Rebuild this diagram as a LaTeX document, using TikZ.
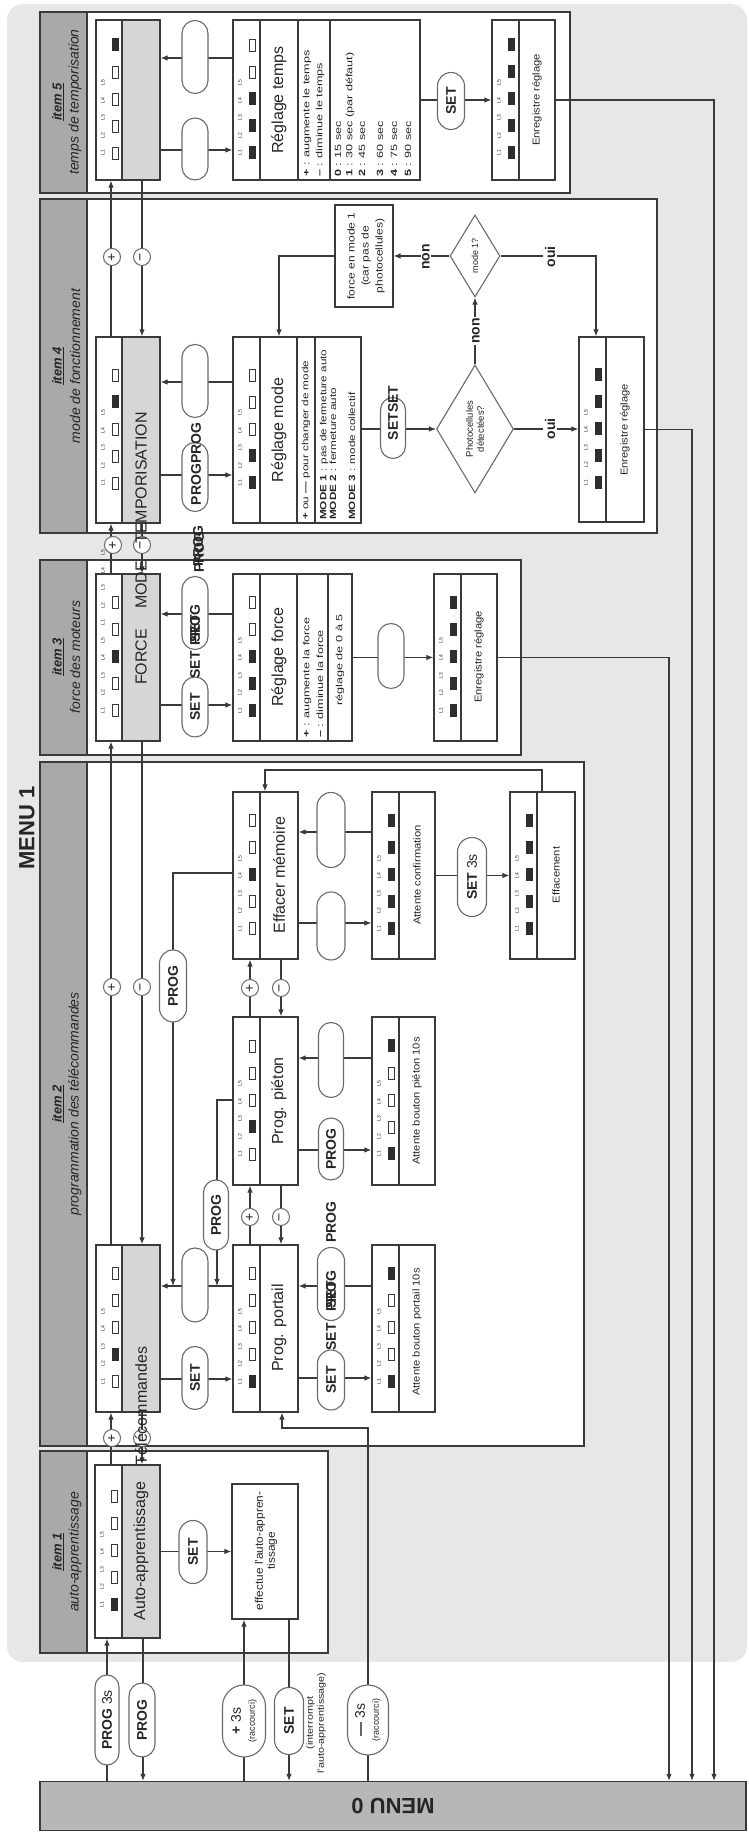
\documentclass[tikz,border=0pt]{standalone}
\usepackage{fontspec}
\setmainfont{Liberation Sans}
\usetikzlibrary{arrows.meta,shapes.geometric,shapes.misc}
\definecolor{panel}{HTML}{E7E7E7}
\definecolor{hdrc}{HTML}{A9A9A9}
\definecolor{namebg}{HTML}{D6D6D6}
\definecolor{menubg}{HTML}{B7B7B7}
\definecolor{ln}{HTML}{3A3A3A}
\definecolor{ledc}{HTML}{2E2E2E}
\definecolor{txt}{HTML}{262626}
\definecolor{ovc}{HTML}{6A6A6A}
\newcommand{\fs}[1]{\fontsize{#1}{#1}\selectfont}
\newcommand{\hs}[2]{\scalebox{#1}[1]{#2}}
\tikzset{
  frame/.style={draw=ln, line width=1.3pt, fill=white},
  hdrs/.style={draw=ln, line width=1.3pt, fill=hdrc},
  box/.style={rectangle, draw=ln, line width=1.2pt, fill=white, inner sep=0pt},
  con/.style={draw=ln, line width=1.1pt},
  arr/.style={con, -{Latex[length=7pt,width=5.5pt]}},
  ovl/.style={rounded rectangle, draw=ovc, line width=1.1pt, fill=white, inner sep=0pt, text=txt, font=\bfseries\fs{14}},
  pm/.style={circle, draw=ovc, line width=1pt, fill=white, minimum size=17pt, inner sep=0pt, text=txt, font=\fs{14}},
  ttl/.style={inner sep=0pt, text=txt, font=\fs{16}},
  sm/.style={inner sep=0pt, text=txt, font=\fs{10}},
  st/.style={inner sep=0pt, text=txt, font=\fs{9}, anchor=west},
  lbl/.style={inner sep=0pt, text=txt, font=\fs{5}},
  bl/.style={inner sep=0pt, text=txt, font=\bfseries\fs{14}},
  yn/.style={inner sep=1.5pt, fill=white, text=txt, font=\bfseries\fs{14}},
  itm/.style={inner sep=0pt, text=txt, font=\fs{13}},
  sub/.style={inner sep=0pt, text=txt, font=\itshape\fs{14}},
  ledoff/.style={draw=ln, line width=0.9pt, fill=white},
  dia/.style={diamond, draw=ovc, line width=1.1pt, fill=white, inner sep=0pt, text=txt, font=\fontsize{9.5}{11}\selectfont, align=center},
}
% LEDs: name prefix, centre Y, strip left X, flags
\newcommand{\leds}[4]{%
  \foreach \f [count=\i] in {#4}{%
    \pgfmathsetmacro{\yy}{#2+(3-\i)*27-1}%
    \pgfmathsetmacro{\yl}{#2+53-(\i-1)*17.5}%
    \node[lbl] (#1L\i) at (\yl,#3+7) {L\i};%
    \ifnum\f=1\relax\fill[ledc] (\yy-6.5,#3+16) rectangle (\yy+6.5,#3+22.5);%
    \else\draw[ledoff] (\yy-6,#3+16.5) rectangle (\yy+6,#3+22);\fi
  }%
}
% box: name, Ytop, Ybot, Xleft, Xright
\newcommand{\bxn}[5]{%
  \node[box, minimum width={#3-#2}, minimum height={#5-#4}] (#1) at ({(#2+#3)/2},{(#4+#5)/2}) {};}
\newcommand{\dbx}[5]{%
  \bxn{#1}{#2}{#3}{#4}{#5}%
  \filldraw[fill=namebg, draw=ln, line width=1.2pt] (#2,122) rectangle (#3,#5);}
\newcommand{\dvd}[3]{\draw[ln, line width=1.2pt] (#1,#3) -- (#2,#3);}
\newcommand{\frm}[3]{\draw[frame] (#1,40) rectangle (#2,#3); \draw[hdrs] (#1,40) rectangle (#2,87);}
\newcommand{\ovn}[6]{\node[ovl, minimum width=#4pt, minimum height=#5pt] (#1) at (#2,#3) {#6};}
\begin{document}
\begin{tikzpicture}
\useasboundingbox (0,0) rectangle (748pt,1832pt);
\fill[white] (0,0) rectangle (748pt,1832pt);
\begin{scope}[shift={(0pt,1832pt)}, rotate=90, x=-1pt, y=-1pt, transform shape]
% panel
\fill[panel, rounded corners=16pt] (4,7) rectangle (1662,747);
\node[inner sep=0pt, text=txt, font=\bfseries\fs{22}] (menu1) at (828,27) {MENU 1};
% frames
\frm{12}{193}{570}
\frm{199}{533}{657}
\frm{560}{755}{521}
\frm{762}{1446}{584}
\frm{1451}{1653}{328}
\node[itm] (h5) at (102,58) {\underline{\textbf{\textit{item 5}}}};
\node[sub] (s5) at (102,75) {temps de temporisation};
\node[itm] (h4) at (366,58) {\underline{\textbf{\textit{item 4}}}};
\node[sub] (s4) at (366,75) {mode de fonctionnement};
\node[itm] (h3) at (657,58) {\underline{\textbf{\textit{item 3}}}};
\node[sub] (s3) at (657,75) {force des moteurs};
\node[itm] (h2) at (1104,58) {\underline{\textbf{\textit{item 2}}}};
\node[sub] (s2) at (1104,75) {programmation des télécommandes};
\node[itm] (h1) at (1552,58) {\underline{\textbf{\textit{item 1}}}};
\node[sub] (s1) at (1552,75) {auto-apprentissage};
% MENU 0
\node[draw=ln, line width=1.2pt, fill=menubg, minimum width=49pt, minimum height=706pt, inner sep=0pt] (m0) at (1806,393) {};
\node[inner sep=0pt, text=txt, font=\bfseries\fs{22}, rotate=90] (m0t) at (1806,393) {MENU 0};
% display boxes
\dbx{d1}{1465}{1638}{95}{160}
\dbx{d2}{1245}{1412}{96}{160}
\dbx{d3}{574}{741}{96}{160}
\dbx{d4}{337}{523}{96}{160}
\dbx{d5}{20}{180}{96}{160}
% other boxes
\bxn{ef1}{1484}{1619}{232}{298}
\bxn{pp}{1245}{1412}{233}{298} \dvd{1245}{1412}{260}
\bxn{ap}{1245}{1412}{372}{435} \dvd{1245}{1412}{399}
\bxn{pi}{1017}{1185}{233}{298} \dvd{1017}{1185}{260}
\bxn{api}{1017}{1185}{372}{435} \dvd{1017}{1185}{399}
\bxn{em}{792}{959}{233}{298} \dvd{792}{959}{260}
\bxn{ac}{792}{959}{372}{435} \dvd{792}{959}{399}
\bxn{efm}{792}{959}{510}{575} \dvd{792}{959}{537}
\bxn{rf}{574}{741}{233}{352} \dvd{574}{741}{260} \dvd{574}{741}{297} \dvd{574}{741}{328}
\bxn{er3}{574}{741}{434}{497} \dvd{574}{741}{461}
\bxn{rm}{337}{523}{233}{361} \dvd{337}{523}{260} \dvd{337}{523}{297} \dvd{337}{523}{315}
\bxn{fm}{205}{307}{335}{393}
\bxn{er4}{337}{522}{579}{644} \dvd{337}{522}{606}
\bxn{rt}{20}{180}{233}{420} \dvd{20}{180}{260} \dvd{20}{180}{298} \dvd{20}{180}{330}
\bxn{er5}{20}{180}{492}{555} \dvd{20}{180}{519}
% diamonds
\node[dia, minimum width=128pt, minimum height=77pt, aspect=1.66] (ph) at (429,475) {Photocellules\\détectées?};
\node[dia, minimum width=82pt, minimum height=50pt, aspect=1.64, font=\fs{9}] (m1) at (256,475) {mode 1?};
% LEDs
\leds{d1}{1551.5}{95}{1,0,0,0,0}
\leds{d2}{1328.5}{96}{0,1,0,0,0}
\leds{d3}{657.5}{96}{0,0,1,0,0}
\foreach \i in {1,...,5} {\node[lbl] (d3M\i) at ({657.5+53-(\i+4)*17.5},103) {L\i};}
\leds{d4}{430}{96}{0,0,0,1,0}
\leds{d5}{100}{96}{0,0,0,0,1}
\leds{pp}{1328.5}{233}{1,0,0,0,0}
\leds{ap}{1328.5}{372}{1,0,0,0,1}
\leds{pi}{1101}{233}{0,1,0,0,0}
\leds{api}{1101}{372}{1,0,0,0,1}
\leds{em}{875.5}{233}{0,0,1,0,0}
\leds{ac}{875.5}{372}{1,1,1,1,1}
\leds{efm}{875.5}{510}{1,1,1,1,1}
\leds{rf}{657.5}{233}{1,1,1,0,0}
\leds{er3}{657.5}{434}{1,1,1,1,1}
\leds{rm}{430}{233}{1,1,0,0,0}
\leds{er4}{429.5}{579}{1,1,1,1,1}
\leds{rt}{100}{233}{1,1,1,0,0}
\leds{er5}{100}{492}{1,1,1,1,1}
% ---------- connectors ----------
% (in this rotated frame: (p |- q) = (Y of p, X of q); (p -| q) = (Y of q, X of p))
\draw[arr] (m0.east |- 0,107) -- (d1.west |- 0,107);
\draw[arr] (d1.west |- 0,143) -- (m0.east |- 0,143);
\draw[arr] (m0.east |- 0,244) -- (ef1.west |- 0,244);
\draw[arr] (ef1.west |- 0,289) -- (m0.east |- 0,289);
\coordinate (k1) at (1428,368); \coordinate (k2) at (1428,282);
\draw[arr] (m0.east |- k1) -- (k1) -- (k2) -- (pp.west |- k2);
\draw[arr] (er3.south) -- (er3.south |- 0,669) -- (m0.east |- 0,669);
\draw[arr] (er4.south) -- (er4.south |- 0,692) -- (m0.east |- 0,692);
\draw[arr] (er5.south) -- (er5.south |- 0,714) -- (m0.east |- 0,714);
\draw[arr] (d1.south) -- (ef1.north);
\draw[arr] (d1.east |- 0,111) -- (d2.west |- 0,111);
\draw[arr] (d2.west |- 0,142) -- (d1.east |- 0,142);
\draw[arr] (d2.east |- 0,111) -- (d3.west |- 0,111);
\draw[arr] (d3.west |- 0,142) -- (d2.east |- 0,142);
\draw[arr] (d3.east |- 0,111) -- (d4.west |- 0,111);
\draw[arr] (d4.west |- 0,142) -- (d3.east |- 0,142);
\draw[arr] (d4.east |- 0,111) -- (d5.west |- 0,111);
\draw[arr] (d5.west |- 0,142) -- (d4.east |- 0,142);
% item 2
\draw[arr] (d2.south -| 1379,0) -- (pp.north -| 1379,0);
\draw[arr] (pp.north -| 1286,0) -- (d2.south -| 1286,0);
\coordinate (j1) at (1286,173); \coordinate (j2) at (1286,217);
\coordinate (b1) at (873,173); \coordinate (b2) at (1100,217);
\draw[arr] (em.north -| b1) -- (b1) -- (j1);
\draw[arr] (pi.north -| b2) -- (b2) -- (j2);
\draw[arr] (pp.south -| 1378,0) -- (ap.north -| 1378,0);
\draw[arr] (ap.north -| 1286,0) -- (pp.south -| 1286,0);
\draw[arr] (pp.east |- 0,250) -- (pi.west |- 0,250);
\draw[arr] (pi.west |- 0,281) -- (pp.east |- 0,281);
\draw[arr] (pi.south -| 1150,0) -- (api.north -| 1150,0);
\draw[arr] (api.north -| 1058,0) -- (pi.south -| 1058,0);
\draw[arr] (pi.east |- 0,250) -- (em.west |- 0,250);
\draw[arr] (em.west |- 0,281) -- (pi.east |- 0,281);
\draw[arr] (em.south -| 923,0) -- (ac.north -| 923,0);
\draw[arr] (ac.north -| 832,0) -- (em.south -| 832,0);
\draw[arr] (ac.south) -- (efm.north);
\coordinate (t1) at (770,542); \coordinate (t2) at (770,265);
\draw[arr] (efm.east |- t1) -- (t1) -- (t2) -- (em.east |- t2);
% item 3
\draw[arr] (d3.south -| 705,0) -- (rf.north -| 705,0);
\draw[arr] (rf.north -| 614,0) -- (d3.south -| 614,0);
\draw[arr] (rf.south) -- (er3.north);
% item 4
\draw[arr] (d4.south -| 475,0) -- (rm.north -| 475,0);
\draw[arr] (rm.north -| 382,0) -- (d4.south -| 382,0);
\draw[arr] (rm.south -| ph.north) -- (ph.north);
\draw[arr] (ph.east) -- (m1.west);
\draw[arr] (m1.north) -- (fm.south);
\coordinate (q1) at (256,279);
\draw[arr] (fm.north) -- (q1) -- (rm.east |- q1);
\coordinate (q2) at (256,596);
\draw[arr] (m1.south) -- (q2) -- (er4.east |- q2);
\draw[arr] (ph.south) -- (er4.north -| ph.south);
% item 5
\draw[arr] (d5.south -| 150,0) -- (rt.north -| 150,0);
\draw[arr] (rt.north -| 58,0) -- (d5.south -| 58,0);
\draw[arr] (rt.south) -- (er5.north);
% ---------- ovals ----------
\ovn{o1}{1720}{107}{90}{24}{PROG \textmd{3s}}
\ovn{o2}{1720}{142}{74}{26}{PROG}
\node[ovl, align=center, minimum width=72pt, minimum height=43pt] (o3) at (1721,244) {+ \textmd{3s}\\{\mdseries\fs{9}(raccourci)}};
\ovn{o4}{1721}{289}{67}{29}{SET}
\node[ovl, align=center, minimum width=70pt, minimum height=41pt] (o5) at (1720,368) {— \textmd{3s}\\{\mdseries\fs{9}(raccourci)}};
\node[inner sep=0pt, text=txt, align=center, font=\fontsize{9}{11}\selectfont] (o4l) at (1723,316) {\hs{1.2}{(interrompt}\\\hs{1.2}{l'auto-apprentissage)}};
\ovn{o6}{1552}{193}{63}{28}{SET}
\ovn{o7}{1378}{195}{63}{26}{SET}
\ovn{o8}{1285}{195}{74}{26}{}
\ovn{o9}{986}{173}{72}{27}{PROG}
\ovn{o10}{1215}{216}{70}{25}{PROG}
\ovn{o11}{1380}{331}{60}{27}{SET}
\ovn{o12}{1284}{331}{73}{27}{}
\node[bl] (x1) at (1337,331) {SET};
\node[bl] (x2) at (1291,331) {PROG};
\node[bl] (x3) at (1295,331) {SET};
\node[bl] (x4) at (1222,331) {PROG};
\ovn{o13}{1149}{331}{62}{25}{PROG}
\ovn{o14}{1060}{331}{75}{25}{}
\ovn{o15}{926}{331}{68}{28}{}
\ovn{o16}{830}{331}{75}{28}{}
\ovn{o17}{877}{472}{79}{29}{SET \textmd{3s}}
\ovn{o18}{707}{195}{60}{26}{SET}
\ovn{o19}{613}{195}{73}{26}{}
\node[bl] (x5) at (665,195) {SET};
\node[bl] (x6) at (625,195) {PROG};
\node[bl] (x7) at (629,195) {SET};
\node[bl] (x8) at (552,199) {PROG};
\ovn{o20}{656}{391}{65}{26}{}
\ovn{o21}{381}{195}{73}{26}{}
\ovn{o22}{477}{195}{69}{26}{}
\node[bl] (x9) at (464,196) {PROGPROG};
\node[bl] (x10) at (546,198) {PROG};
\ovn{o23}{428}{393}{61}{25}{}
\node[bl] (x11) at (413,393) {SETSET};
\ovn{o24}{57}{195}{73}{26}{}
\ovn{o25}{149}{195}{62}{26}{}
\ovn{o26}{101}{451}{57}{27}{SET}
\node[yn] (n1) at (331,476) {non};
\node[yn] (n2) at (257,426) {non};
\node[yn] (y1) at (257,550) {oui};
\node[yn] (y2) at (429,550) {oui};
% plus / minus circles
\node[pm] (c1) at (1438,112) {+};  \node[pm] (c2) at (1438,142) {−};
\node[pm] (c3) at (987,112) {+};   \node[pm] (c4) at (987,142) {−};
\node[pm] (c5) at (1217,250) {+};  \node[pm] (c6) at (1217,281) {−};
\node[pm] (c7) at (988,250) {+};   \node[pm] (c8) at (988,281) {−};
\node[pm] (c9) at (545,113) {+};   \node[pm] (c10) at (545,142) {−};
\node[pm] (c11) at (257,112) {+};  \node[pm] (c12) at (257,142) {−};
% ---------- texts ----------
\node[ttl] (td1) at (1551,141) {Auto-apprentissage};
\node[ttl] (td2) at (1406,141) {Télécommandes};
\node[ttl] (td3) at (657,141) {FORCE};
\node[ttl] (td3b) at (585,141) {MODE};
\node[ttl] (td4) at (478,141) {TEMPORISATION};
\node[inner sep=0pt, text=txt, align=center, font=\fontsize{11}{12}\selectfont] (tef) at (1551,266) {\hs{1.08}{effectue l'auto-appren-}\\\hs{1.08}{tissage}};
\node[ttl] (tpp) at (1328,279) {Prog. portail};
\node[sm] (tap) at (1332,417) {\hs{1.12}{Attente bouton portail 10s}};
\node[ttl] (tpi) at (1101,279) {Prog. piéton};
\node[sm] (tapi) at (1101,417) {\hs{1.12}{Attente bouton piéton 10s}};
\node[ttl] (tem) at (875,279) {Effacer mémoire};
\node[sm] (tac) at (875,417) {\hs{1.12}{Attente confirmation}};
\node[sm] (tefm) at (875,556) {\hs{1.12}{Effacement}};
\node[ttl] (trf) at (657,279) {Réglage force};
\node[st] (trf1) at (738,307) {\hs{1.4}{\textbf{+} : augmente la force}};
\node[st] (trf2) at (738,320) {\hs{1.4}{\textbf{–} : diminue la force}};
\node[inner sep=0pt, text=txt, font=\fs{9}] (trf3) at (660,340) {\hs{1.4}{réglage de 0 à 5}};
\node[sm] (ter3) at (657,479) {\hs{1.12}{Enregistre réglage}};
\node[ttl] (trm) at (430,279) {Réglage mode};
\node[st] (trm1) at (520,306) {\hs{1.3}{\textbf{+} ou \textbf{—} pour changer de mode}};
\node[st] (trm2) at (520,324) {\hs{1.3}{\textbf{MODE 1} : pas de fermeture auto}};
\node[st] (trm3) at (520,333) {\hs{1.3}{\textbf{MODE 2} : fermeture auto}};
\node[st] (trm4) at (520,352) {\hs{1.3}{\textbf{MODE 3} : mode collectif}};
\node[inner sep=0pt, text=txt, align=center, font=\fontsize{10}{14}\selectfont] (tfm) at (256,366) {\hs{1.2}{force en mode 1}\\\hs{1.2}{(car pas de}\\\hs{1.2}{photocellules)}};
\node[sm] (ter4) at (430,625) {\hs{1.12}{Enregistre réglage}};
\node[ttl] (trt) at (100,279) {Réglage temps};
\node[st] (trt1) at (177,307) {\hs{1.4}{\textbf{+} : augmente le temps}};
\node[st] (trt2) at (177,320) {\hs{1.4}{\textbf{–} : diminue le temps}};
\node[st] (trt3) at (177,338) {\hs{1.4}{\textbf{0} : 15 sec}};
\node[st] (trt4) at (177,350) {\hs{1.4}{\textbf{1} : 30 sec (par défaut)}};
\node[st] (trt5) at (177,362) {\hs{1.4}{\textbf{2} : 45 sec}};
\node[st] (trt6) at (177,380) {\hs{1.4}{\textbf{3} : 60 sec}};
\node[st] (trt7) at (177,394) {\hs{1.4}{\textbf{4} : 75 sec}};
\node[st] (trt8) at (177,408) {\hs{1.4}{\textbf{5} : 90 sec}};
\node[sm] (ter5) at (100,537) {\hs{1.12}{Enregistre réglage}};
\end{scope}
\end{tikzpicture}
\end{document}
